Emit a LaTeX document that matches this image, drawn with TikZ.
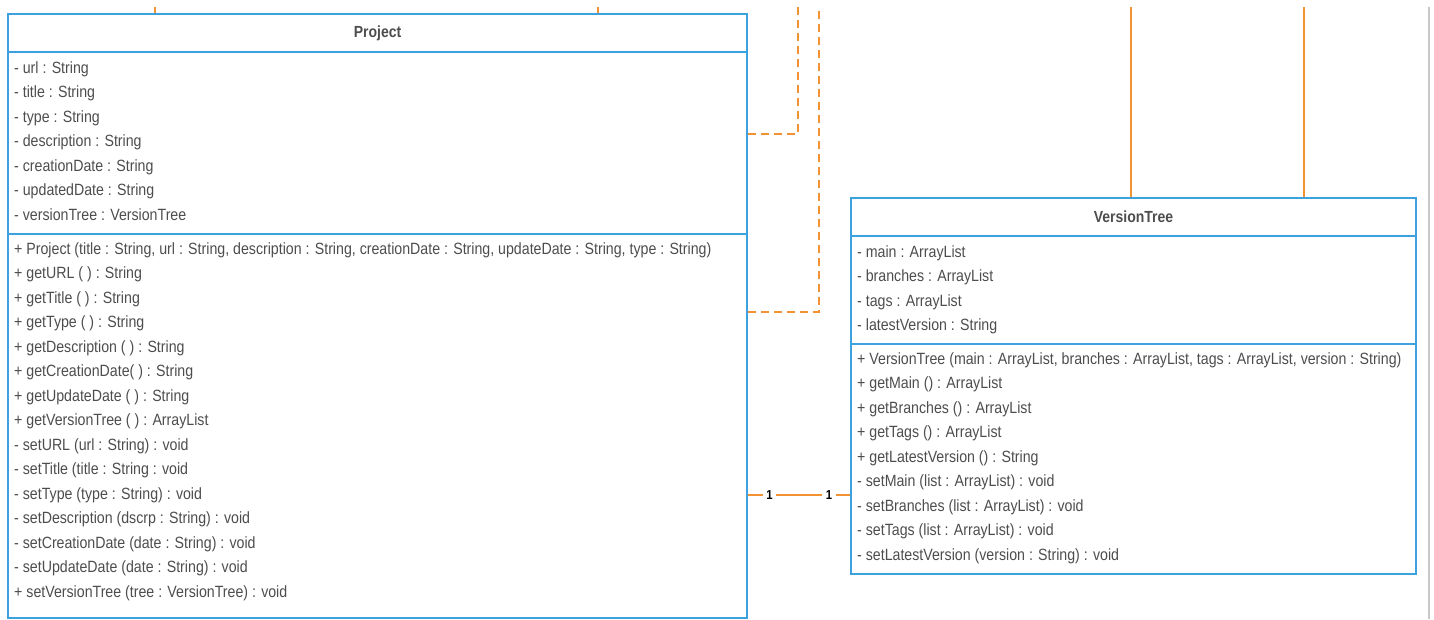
\documentclass[tikz,border=0pt]{standalone}
\usepackage{fontspec}
\setmainfont{Liberation Sans}[FakeStretch=0.87]
\usepackage{tikz}
\usetikzlibrary{positioning}

\definecolor{umlblue}{HTML}{3BA1DF}
\definecolor{linkorange}{HTML}{F39233}
\definecolor{membergray}{HTML}{4D4D4D}
\definecolor{edgegray}{HTML}{C8C8C8}

\tikzset{
  classpart/.style={draw=umlblue, line width=2pt, anchor=north west, inner sep=0pt,
                    text=membergray, font=\fontsize{16.1}{18}\selectfont\bfseries},
  members/.style={anchor=north west, inner sep=0pt, align=left, text=membergray,
                  font=\fontsize{16.3}{24.5}\selectfont},
  link/.style={linkorange, line width=2pt},
  dep/.style={link, dash pattern=on 8pt off 5pt},
  mult/.style={fill=white, inner sep=3.5pt, text=black, font=\fontsize{13}{14}\selectfont\bfseries}
}

\begin{document}
\begin{tikzpicture}[x=1pt, y=-1pt]
  \useasboundingbox (0,0) rectangle (1434,619);

  % Project class
  \node[classpart, minimum width=739pt, minimum height=38pt] (projHead) at (7,13) {Project};
  \node[classpart, minimum width=739pt, minimum height=182pt] (projAttr) at (7,51) {};
  \node[classpart, minimum width=739pt, minimum height=384pt] (projOps) at (7,233) {};
  \node[members, below right=10pt and 7pt of projAttr.north west] (projAttrText) {%
    - url : String\\
    - title : String\\
    - type : String\\
    - description : String\\
    - creationDate : String\\
    - updatedDate : String\\
    - versionTree : VersionTree};
  \node[members, below right=9pt and 7pt of projOps.north west] (projOpsText) {%
    + Project (title : String, url : String, description : String, creationDate : String, updateDate : String, type : String)\\
    + getURL ( ) : String\\
    + getTitle ( ) : String\\
    + getType ( ) : String\\
    + getDescription ( ) : String\\
    + getCreationDate( ) : String\\
    + getUpdateDate ( ) : String\\
    + getVersionTree ( ) : ArrayList\\
    - setURL (url : String) : void\\
    - setTitle (title : String : void\\
    - setType (type : String) : void\\
    - setDescription (dscrp : String) : void\\
    - setCreationDate (date : String) : void\\
    - setUpdateDate (date : String) : void\\
    + setVersionTree (tree : VersionTree) : void};

  % VersionTree class
  \node[classpart, minimum width=565pt, minimum height=38pt] (treeHead) at (850,197) {VersionTree};
  \node[classpart, minimum width=565pt, minimum height=108pt] (treeAttr) at (850,235) {};
  \node[classpart, minimum width=565pt, minimum height=230pt] (treeOps) at (850,343) {};
  \node[members, below right=10pt and 7pt of treeAttr.north west] (treeAttrText) {%
    - main : ArrayList\\
    - branches : ArrayList\\
    - tags : ArrayList\\
    - latestVersion : String};
  \node[members, below right=9pt and 7pt of treeOps.north west] (treeOpsText) {%
    + VersionTree (main : ArrayList, branches : ArrayList, tags : ArrayList, version : String)\\
    + getMain () : ArrayList\\
    + getBranches () : ArrayList\\
    + getTags () : ArrayList\\
    + getLatestVersion () : String\\
    - setMain (list : ArrayList) : void\\
    - setBranches (list : ArrayList) : void\\
    - setTags (list : ArrayList) : void\\
    - setLatestVersion (version : String) : void};

  % loose ends coming from above
  \coordinate (inA) at (155,7);
  \coordinate (inB) at (598,7);
  \coordinate (inC) at (798,7);
  \coordinate (inD) at (819,7);
  \coordinate (inE) at (1131,7);
  \coordinate (inF) at (1304,7);
  \coordinate (bendC) at (798,134);
  \coordinate (bendD) at (819,312);
  \coordinate (assoc) at (798,495);

  \draw[link] (inA) -- (inA |- projHead.north);
  \draw[link] (inB) -- (inB |- projHead.north);
  \draw[dep] (bendC -| projAttr.east) -- (bendC) -- (inC);
  \draw[dep] (bendD -| projOps.east) -- (bendD) -- (inD);
  \draw[link] (inE) -- (inE |- treeHead.north);
  \draw[link] (inF) -- (inF |- treeHead.north);

  % association
  \draw[link] (assoc -| projOps.east) -- (assoc -| treeOps.west)
    node[mult, pos=0.21] {1} node[mult, pos=0.795] {1};

  % page edge
  \coordinate (edgeTop) at (1429,7);
  \draw[edgegray, line width=1.5pt] (edgeTop) -- (1429,619);
\end{tikzpicture}
\end{document}
